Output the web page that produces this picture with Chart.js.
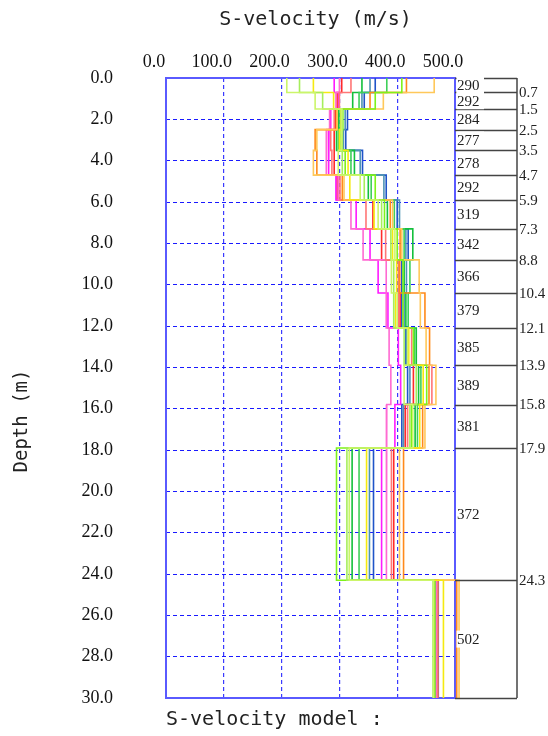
<!DOCTYPE html>
<html>
<head>
<meta charset="utf-8">
<script src="https://cdn.jsdelivr.net/npm/chart.js@4.4.0/dist/chart.umd.min.js"></script>
<style>
html,body{margin:0;padding:0;background:#fff;}
canvas{display:block;}
</style>
</head>
<body>
<canvas id="c" width="548" height="736"></canvas>
<script>
// ---- data ----
const depthBounds = [0, 0.7, 1.5, 2.5, 3.5, 4.7, 5.9, 7.3, 8.8, 10.4, 12.1, 13.9, 15.8, 17.9, 24.3, 30];
const layerVelocityLabels = [290, 292, 284, 277, 278, 292, 319, 342, 366, 379, 385, 389, 381, 372, 502];
const xTicks = [0, 100, 200, 300, 400, 500];
const yTicks = [0, 2, 4, 6, 8, 10, 12, 14, 16, 18, 20, 22, 24, 26, 28, 30];

const velLime        = [408, 362, 306, 301, 310, 362, 378, 400, 410, 410, 428, 451, 425, 295, 465];
const velLightGreen  = [231, 271, 305, 305, 305, 343, 373, 389, 394, 394, 412, 433, 422, 313, 462];
const velPaleGreen   = [209, 258, 304, 303, 298, 336, 367, 396, 390, 400, 418, 412, 427, 317, 463];
const velGreen       = [339, 323, 298, 295, 326, 350, 383, 427, 412, 415, 433, 437, 431, 322, 468];
const velMidGreen    = [382, 334, 301, 298, 320, 355, 395, 412, 422, 419, 430, 441, 435, 334, 466];
const velYellow      = [255, 290, 303, 300, 315, 318, 360, 392, 399, 397, 420, 445, 439, 347, 480];
const velMagenta     = [291, 299, 285, 282, 281, 294, 329, 353, 367, 384, 402, 406, 396, 373, 468];
const velPink        = [300, 294, 283, 278, 277, 298, 320, 341, 381, 381, 386, 389, 382, 381, 468];
const velRed         = [304, 296, 293, 291, 291, 296, 358, 373, 404, 405, 419, 428, 414, 394, 470];
const velSalmon      = [320, 300, 291, 285, 287, 301, 346, 380, 402, 403, 425, 460, 418, 390, 470];
const velLightOrange = [464, 376, 296, 261, 255, 308, 392, 408, 438, 440, 450, 467, 448, 404, 507];
const velOrange      = [416, 353, 295, 258, 261, 305, 388, 405, 404, 448, 456, 455, 444, 411, 503];
const velTeal        = [353, 339, 310, 307, 336, 377, 404, 415, 416, 412, 416, 422, 411, 352, 471];
const velBlue        = [362, 343, 314, 311, 340, 381, 400, 419, 408, 408, 415, 418, 408, 359, 471];

const seriesList = [
  [velPaleGreen,   '#ccf56a'],
  [velLightGreen,  '#a6ee5c'],
  [velYellow,      '#f5ea10'],
  [velLime,        '#7ef21a'],
  [velLightOrange, '#ffc85a'],
  [velOrange,      '#ff8a1a'],
  [velSalmon,      '#ff7676'],
  [velPink,        '#ff6ad2'],
  [velMagenta,     '#ff1aff'],
  [velRed,         '#ff2a2a'],
  [velMidGreen,    '#3fd05a'],
  [velGreen,       '#14c03c'],
  [velTeal,        '#4f94b4'],
  [velBlue,        '#1f54c8']
];

function stepData(vels) {
  const pts = [];
  for (let i = 0; i < vels.length; i++) {
    pts.push({x: vels[i], y: depthBounds[i]});
    pts.push({x: vels[i], y: depthBounds[i + 1]});
  }
  return pts;
}

const datasets = seriesList.map(([v, c]) => ({
  data: stepData(v),
  borderColor: c,
  borderWidth: 1.6,
  pointRadius: 0,
  showLine: true,
  fill: false,
  tension: 0,
  clip: false
}));

const monoFont = '"DejaVu Sans Mono", monospace';
const serifFont = '"Liberation Serif", serif';
const rightColEdge = 517;

const decor = {
  id: 'decor',
  beforeDatasetsDraw(chart) {
    const {ctx, chartArea: a} = chart;
    ctx.save();
    ctx.strokeStyle = '#5a5aff';
    ctx.lineWidth = 2;
    ctx.strokeRect(a.left, a.top, a.right - a.left, a.bottom - a.top);
    ctx.restore();
  },
  afterDatasetsDraw(chart) {
    const {ctx, chartArea: a, scales} = chart;
    const ys = scales.y;
    ctx.save();
    ctx.strokeStyle = '#444';
    ctx.lineWidth = 1.5;
    depthBounds.forEach(d => {
      const py = Math.round(ys.getPixelForValue(d)) + 0.5;
      ctx.beginPath();
      ctx.moveTo(a.right, py);
      ctx.lineTo(rightColEdge, py);
      ctx.stroke();
    });
    ctx.beginPath();
    ctx.moveTo(rightColEdge, ys.getPixelForValue(0));
    ctx.lineTo(rightColEdge, ys.getPixelForValue(30));
    ctx.stroke();
    ctx.font = '15px ' + serifFont;
    ctx.textBaseline = 'middle';
    ctx.textAlign = 'left';
    layerVelocityLabels.forEach((lab, i) => {
      const mid = ys.getPixelForValue((depthBounds[i] + depthBounds[i + 1]) / 2);
      const txt = String(lab);
      const w = ctx.measureText(txt).width;
      ctx.fillStyle = '#fff';
      ctx.fillRect(a.right + 1.5, mid - 8.5, w + 5, 17);
      ctx.fillStyle = '#222';
      ctx.fillText(txt, a.right + 2, mid + 1);
    });
    depthBounds.slice(1, -1).forEach(d => {
      const py = ys.getPixelForValue(d);
      ctx.fillStyle = '#222';
      ctx.fillText(d.toFixed(1), rightColEdge + 2, py + 1);
    });
    ctx.fillStyle = '#222';
    ctx.font = '20px ' + monoFont;
    ctx.textAlign = 'center';
    ctx.fillText('S-velocity (m/s)', (a.left + a.right) / 2 + 5, 20);
    ctx.textAlign = 'left';
    ctx.fillText('S-velocity model :', a.left, 720);
    ctx.save();
    ctx.translate(22, 421);
    ctx.rotate(-Math.PI / 2);
    ctx.textAlign = 'center';
    ctx.font = '19px ' + monoFont;
    ctx.fillText('Depth (m)', 0, 0);
    ctx.restore();
    ctx.restore();
  }
};

new Chart(document.getElementById('c'), {
  type: 'scatter',
  data: {datasets},
  options: {
    responsive: false,
    animation: false,
    layout: {padding: {left: 0, top: 0, right: 93, bottom: 38}},
    plugins: {legend: {display: false}, tooltip: {enabled: false}, title: {display: false}},
    scales: {
      x: {
        type: 'linear', position: 'top', min: 0, max: 500,
        afterBuildTicks: s => { s.ticks = xTicks.map(v => ({value: v})); },
        afterFit: s => { s.height = 78; s.paddingLeft = 0; s.paddingRight = 0; },
        ticks: {
          callback: v => Number(v).toFixed(1),
          font: {family: serifFont, size: 18},
          color: '#111', labelOffset: -12, padding: 5, maxRotation: 0, autoSkip: false
        },
        grid: {color: '#3a3aff', lineWidth: 1.2, drawTicks: false},
        border: {display: false, dash: [4, 3]}
      },
      y: {
        type: 'linear', reverse: true, min: 0, max: 30,
        afterBuildTicks: s => { s.ticks = yTicks.map(v => ({value: v})); },
        afterFit: s => { s.width = 166; s.paddingTop = 0; s.paddingBottom = 0; },
        ticks: {
          callback: v => Number(v).toFixed(1),
          font: {family: serifFont, size: 18},
          color: '#111', padding: 53, autoSkip: false
        },
        grid: {color: '#1a1aff', lineWidth: 1, drawTicks: false},
        border: {display: false, dash: [4, 3]}
      }
    }
  },
  plugins: [decor]
});
</script>
</body>
</html>
